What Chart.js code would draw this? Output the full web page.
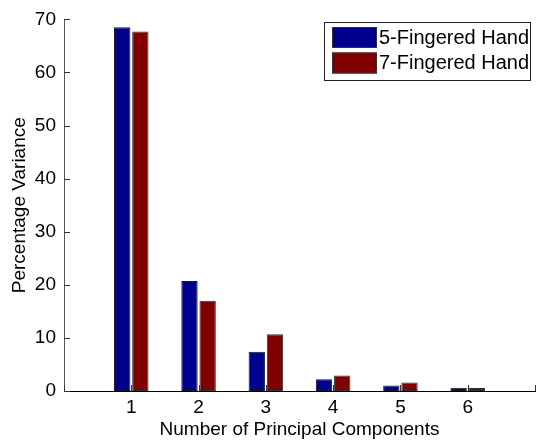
<!DOCTYPE html>
<html>
<head>
<meta charset="utf-8">
<script src="https://cdn.jsdelivr.net/npm/chart.js@4/dist/chart.umd.min.js"></script>
<style>
  html, body { margin: 0; padding: 0; background: #fff; }
  #wrap { width: 540px; height: 441px; }
</style>
</head>
<body>
<div id="wrap"><canvas id="c" width="540" height="441"></canvas></div>
<script>
// Number of principal components on the x axis
const categories = [1, 2, 3, 4, 5, 6];
// Percentage of variance explained by each component
const fiveFingered = [68.5, 20.7, 7.4, 2.2, 1.05, 0.6];
const sevenFingered = [67.7, 17.0, 10.7, 2.9, 1.6, 0.55];
const seriesNames = ['5-Fingered Hand', '7-Fingered Hand'];
const yTicks = [0, 10, 20, 30, 40, 50, 60, 70];

const FONT = 'Liberation Sans, Arial, Helvetica, sans-serif';
const BLUE = '#00008f';
const RED = '#800000';

// Inward-pointing tick marks on both axes
const innerTicks = {
  id: 'innerTicks',
  afterDatasetsDraw(chart) {
    const { ctx } = chart;
    const xs = chart.scales.x, ys = chart.scales.y;
    ctx.save();
    ctx.strokeStyle = '#333';
    ctx.lineWidth = 1;
    ctx.beginPath();
    ys.ticks.forEach(t => {
      const py = Math.round(ys.getPixelForValue(t.value)) + 0.5;
      ctx.moveTo(xs.left, py);
      ctx.lineTo(xs.left + 6, py);
    });
    xs.ticks.forEach(t => {
      const px = Math.round(xs.getPixelForValue(t.value)) + 0.5;
      ctx.moveTo(px, ys.bottom);
      ctx.lineTo(px, ys.bottom - 6);
    });
    ctx.stroke();
    ctx.restore();
  }
};

// Boxed legend in the upper right of the plot
const boxLegend = {
  id: 'boxLegend',
  afterDraw(chart) {
    const { ctx } = chart;
    const x0 = 324.5, y0 = 22.5, w = 206, h = 58;
    ctx.save();
    ctx.fillStyle = '#fff';
    ctx.fillRect(x0, y0, w, h);
    ctx.strokeStyle = '#222';
    ctx.lineWidth = 1;
    ctx.strokeRect(x0, y0, w, h);
    ctx.font = '20px ' + FONT;
    ctx.textBaseline = 'middle';
    ctx.textAlign = 'left';
    chart.data.datasets.forEach((ds, i) => {
      const sy = 27 + i * 25.5;
      ctx.fillStyle = ds.backgroundColor;
      ctx.fillRect(332, sy, 45, 21);
      ctx.strokeStyle = '#333';
      ctx.strokeRect(332.5, sy + 0.5, 44, 20);
      ctx.fillStyle = '#000';
      ctx.fillText(ds.label, 379, sy + 11);
    });
    ctx.restore();
  }
};

const toPoints = vals => categories.map((c, i) => ({ x: c, y: vals[i] }));

new Chart(document.getElementById('c'), {
  type: 'bar',
  data: {
    datasets: [
      { label: seriesNames[0], data: toPoints(fiveFingered), backgroundColor: BLUE,
        borderColor: '#1a1a1a', borderWidth: 1, borderSkipped: false },
      { label: seriesNames[1], data: toPoints(sevenFingered), backgroundColor: RED,
        borderColor: '#333', borderWidth: 1, borderSkipped: false }
    ]
  },
  options: {
    responsive: false,
    animation: false,
    layout: { padding: { top: 14, right: 0, bottom: 0, left: 0 } },
    categoryPercentage: 0.54,
    barPercentage: 0.9,
    plugins: { legend: { display: false }, tooltip: { enabled: false } },
    scales: {
      x: {
        type: 'linear',
        min: 0, max: 7,
        offset: false,
        grid: { display: false, drawTicks: false },
        border: { display: true, color: '#000', width: 1 },
        ticks: {
          stepSize: 1,
          padding: 5,
          color: '#000',
          font: { family: FONT, size: 19 },
          maxRotation: 0,
          callback: v => categories.includes(v) ? String(v) : ''
        },
        title: {
          display: true,
          text: 'Number of Principal Components',
          color: '#000',
          font: { family: FONT, size: 19 },
          padding: { top: 0, bottom: 0 }
        },
        afterFit: s => { s.height = 50; }
      },
      y: {
        min: 0, max: 70,
        grid: { display: false, drawTicks: false },
        border: { display: true, color: '#555', width: 1 },
        afterBuildTicks: s => { s.ticks = yTicks.map(v => ({ value: v })); },
        ticks: {
          padding: 8,
          color: '#000',
          font: { family: FONT, size: 19 }
        },
        title: {
          display: true,
          text: 'Percentage Variance',
          color: '#000',
          font: { family: FONT, size: 19 },
          padding: { top: 8, bottom: 0 }
        },
        afterFit: s => { s.width = 64; }
      }
    }
  },
  plugins: [innerTicks, boxLegend]
});
</script>
</body>
</html>
